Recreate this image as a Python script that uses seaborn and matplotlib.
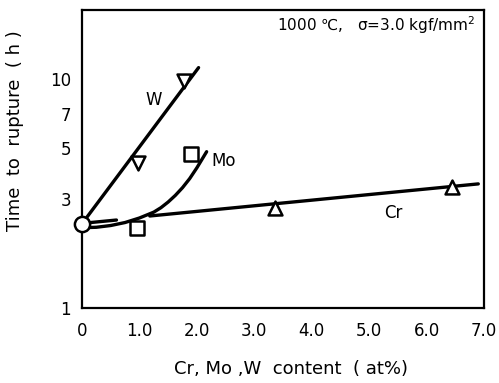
import numpy as np
import pandas as pd
import matplotlib
matplotlib.use("Agg")
import matplotlib.pyplot as plt
import seaborn as sns

# Measured rupture times (h) vs. alloying content (at%)
base_x = [0.0]
base_y = [2.33]
w_x = [0.98, 1.77]
w_y = [4.31, 9.8]
mo_x = [0.95, 1.90]
mo_y = [2.23, 4.70]
cr_x = [3.36, 6.45]
cr_y = [2.74, 3.38]

# Trend lines drawn through the data
w_line_x = [0.0, 2.03]
w_line_y = [2.33, 11.2]
mo_curve_x = [0.0, 0.25, 0.5, 0.75, 1.0, 1.25, 1.375, 1.5, 1.625, 1.75, 1.875, 2.0, 2.17]
mo_curve_y = [2.24, 2.25, 2.29, 2.36, 2.47, 2.62, 2.74, 2.90, 3.10, 3.35, 3.67, 4.09, 4.81]
cr_line_x = [0.0, 0.60, 1.18, 6.90]
cr_line_y = [2.34, 2.42, 2.52, 3.48]
cr_line_seg = [0, 0, 1, 1]

y_ticks = [1, 3, 5, 7, 10]
x_ticks = [0, 1, 2, 3, 4, 5, 6, 7]
x_tick_labels = ["0", "1.0", "2.0", "3.0", "4.0", "5.0", "6.0", "7.0"]

sns.set_theme(style="white", rc={
    "text.color": "black", "axes.labelcolor": "black",
    "xtick.color": "black", "ytick.color": "black",
    "axes.edgecolor": "black"})
plt.rcParams["font.family"] = ["DejaVu Sans"]

fig = plt.figure(figsize=(4.99, 3.83), dpi=100)
ax = fig.add_axes([0.1643, 0.196, 0.8057, 0.778])
ax.set_yscale("log")

lw = 2.4
sns.lineplot(x=w_line_x, y=w_line_y, color="black", lw=lw, ax=ax,
             sort=False, estimator=None)
sns.lineplot(x=mo_curve_x, y=mo_curve_y, color="black", lw=lw, ax=ax,
             sort=False, estimator=None)
cr_df = pd.DataFrame({"x": cr_line_x, "y": cr_line_y, "seg": cr_line_seg})
sns.lineplot(data=cr_df, x="x", y="y", units="seg", estimator=None,
             color="black", lw=lw, ax=ax, sort=False)

mk = dict(facecolor="white", edgecolor="black", linewidth=1.8, zorder=5,
          clip_on=False, ax=ax, legend=False)
sns.scatterplot(x=w_x, y=w_y, marker="v", s=100, **mk)
sns.scatterplot(x=mo_x, y=mo_y, marker="s", s=90, **mk)
sns.scatterplot(x=cr_x, y=cr_y, marker="^", s=100, **mk)
sns.scatterplot(x=base_x, y=base_y, marker="o", s=120, **mk)

ax.set_xlim(0, 7)
ax.set_ylim(1, 20)
ax.set_xticks(x_ticks)
ax.set_xticklabels(x_tick_labels)
ax.set_yticks(y_ticks)
ax.set_yticklabels([str(t) for t in y_ticks])
ax.yaxis.set_minor_locator(matplotlib.ticker.NullLocator())

ax.tick_params(axis="both", direction="in", colors="black", labelsize=12)
ax.tick_params(axis="x", length=8.5, width=1.3, pad=10)
ax.tick_params(axis="y", length=7, width=1.3, pad=8)
for t, v in zip(ax.yaxis.get_major_ticks(), y_ticks):
    if v == 10:
        t.tick1line.set_markersize(12)

for s in ax.spines.values():
    s.set_color("black")
    s.set_linewidth(1.6)

ax.set_xlabel("Cr, Mo ,W  content  ( at%)", fontsize=13)
ax.xaxis.set_label_coords(0.521, -0.175)
ax.set_ylabel("Time  to  rupture  ( h )", fontsize=13)
ax.yaxis.set_label_coords(-0.145, 0.596)

ax.text(1.24, 8.1, "W", fontsize=12, ha="center", va="center")
ax.text(2.46, 4.38, "Mo", fontsize=12, ha="center", va="center")
ax.text(5.42, 2.60, "Cr", fontsize=12, ha="center", va="center")
ax.text(0.485, 0.95, "1000 \u2103,   \u03c3=3.0 kgf/mm$^2$", fontsize=11,
        ha="left", va="center", transform=ax.transAxes)

fig.savefig("out.png", dpi=100, facecolor="white")
